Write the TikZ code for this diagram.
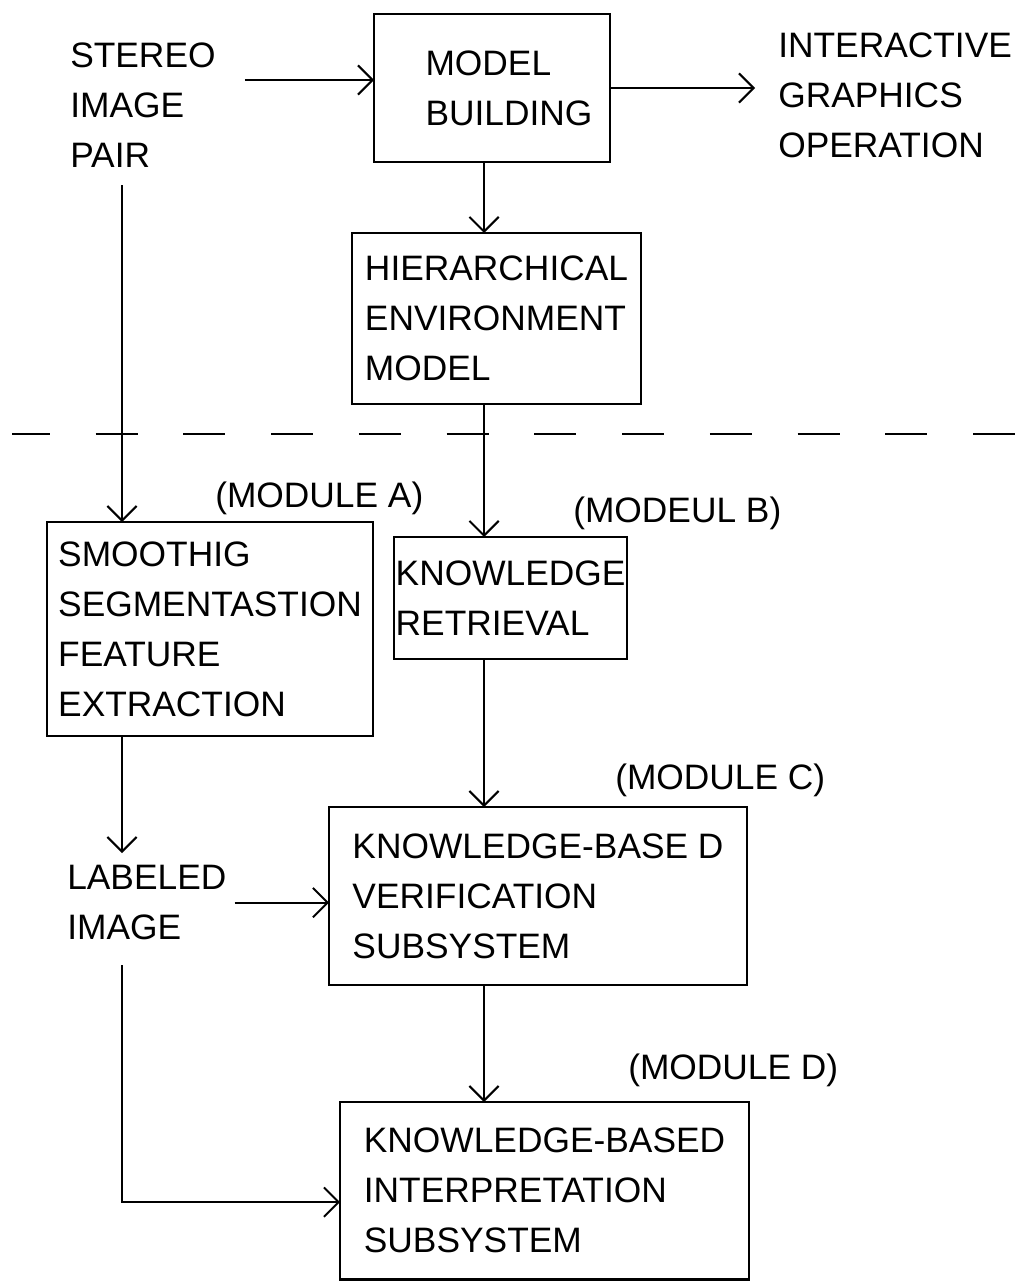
\documentclass[tikz,border=0pt]{standalone}
\usepackage{fontspec}
\setmainfont{Liberation Sans}
\usetikzlibrary{arrows.meta,positioning}
\tikzset{
  fcblk/.style={draw=black, line width=2pt, align=left, inner sep=0pt, outer sep=0pt},
  fctxt/.style={anchor=north west, inner sep=0pt, align=left},
  fcarrow/.style={-{Straight Barb[length=11pt,width=22pt]}, line width=1.5pt},
  fcdash/.style={line width=1.8pt, dash pattern=on 31.5pt off 34.3pt, dash phase=3pt}
}

\begin{document}
\begin{tikzpicture}[x=0.75pt, y=-0.75pt, font=\fontsize{26.5}{37.5}\selectfont]
\useasboundingbox (0,0) rectangle (1021,1287);
\coordinate (lcol) at (122,0);
\coordinate (mcol) at (484,0);
% upper part
\node[fcblk, minimum width=177pt, minimum height=111pt] (build) at (492,88)
  {\hspace*{25.5pt}MODEL\\\hspace*{25.5pt}BUILDING};
\node[fctxt] (stereo) at (70,43) {STEREO\\IMAGE\\PAIR};
\node[fctxt] (inter) at (778,33) {INTERACTIVE\\GRAPHICS\\OPERATION};
\node[fcblk, minimum width=216.75pt, minimum height=128.25pt, below=53.25pt of build, xshift=3.4pt] (hier)
  {HIERARCHICAL\\ENVIRONMENT\\MODEL};
% divider
\coordinate (dl) at (12,434);
\coordinate (dr) at (1021,434);
\draw[fcdash] (dl) -- (dr);
% modules
\node[fcblk, minimum width=244.5pt, minimum height=160.5pt] (smooth) at (210,629)
  {SMOOTHIG\\SEGMENTASTION\\FEATURE\\EXTRACTION};
\node[fcblk, minimum width=174.75pt, minimum height=91.5pt, below=99.75pt of hier, xshift=10.5pt] (retr)
  {KNOWLEDGE\\RETRIEVAL};
\node[fcblk, minimum width=313.5pt, minimum height=133.5pt, below=111pt of retr, xshift=20.6pt] (verif)
  {KNOWLEDGE-BASE D\\VERIFICATION\\SUBSYSTEM};
\node[fcblk, minimum width=306.75pt, minimum height=133pt, below=87.75pt of verif, xshift=4.9pt] (interp)
  {KNOWLEDGE-BASED\\INTERPRETATION\\SUBSYSTEM};
\node[fctxt] (labeled) at (67,865) {LABELED\\IMAGE};
\node[fctxt] (moda) at (215,482) {(MODULE A)};
\node[fctxt] (modb) at (573,497) {(MODEUL B)};
\node[fctxt] (modc) at (615,764) {(MODULE C)};
\node[fctxt] (modd) at (628,1054) {(MODULE D)};
% connectors
\draw[fcarrow] ([xshift=21.75pt]stereo.east |- build.west) ++(0,-8) -- ([yshift=6pt]build.west);
\draw[fcarrow] (build.east) -- ([xshift=-17.25pt]inter.west |- build.east);
\draw[fcarrow] (build.south -| mcol) -- (hier.north -| mcol);
\draw[fcarrow] (hier.south -| mcol) -- (retr.north -| mcol);
\draw[fcarrow] (retr.south -| mcol) -- (verif.north -| mcol);
\draw[fcarrow] (verif.south -| mcol) -- (interp.north -| mcol);
\draw[fcarrow] ([yshift=-12.75pt]stereo.south -| lcol) -- (smooth.north -| lcol);
\draw[fcarrow] (smooth.south -| lcol) -- ([yshift=9pt]labeled.north -| lcol);
\draw[fcarrow] ([xshift=6pt]labeled.east) -- (labeled.east -| verif.west);
\draw[fcarrow] ([yshift=-18.75pt]labeled.south -| lcol) |- ([yshift=-8.6pt]interp.west);
\end{tikzpicture}
\end{document}
